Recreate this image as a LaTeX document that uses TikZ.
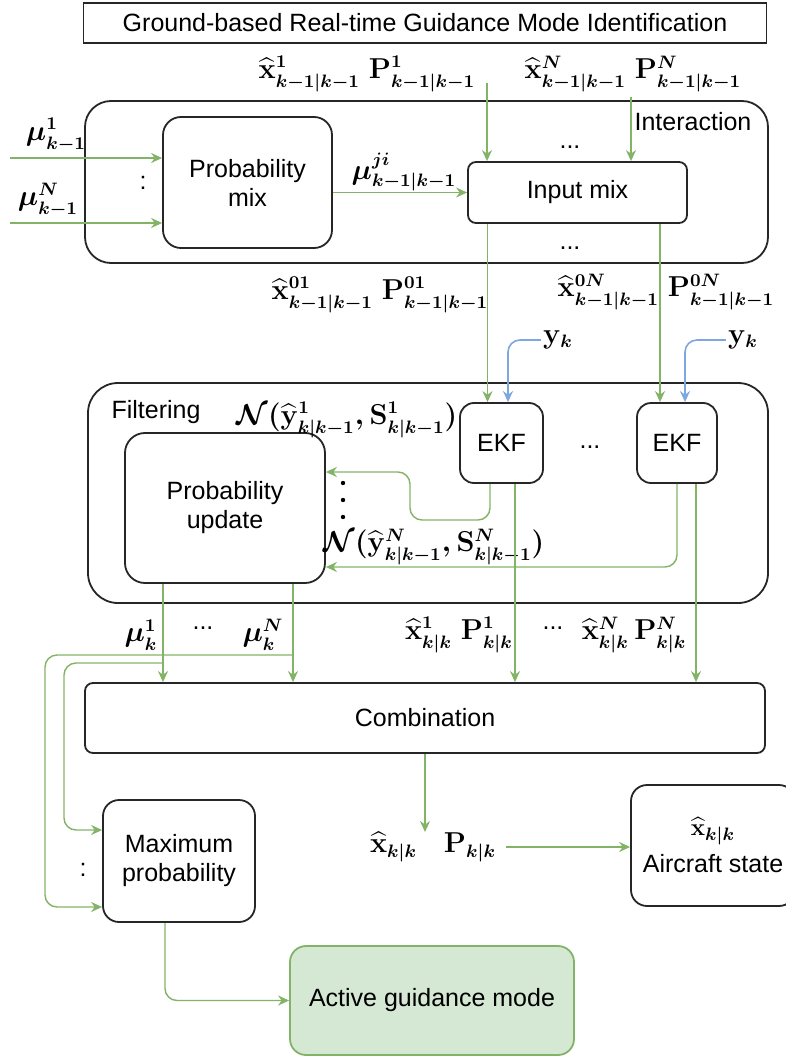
\documentclass[tikz,border=0pt]{standalone}
\usepackage{amsmath,amssymb,bm}
\usepackage[no-math]{fontspec}
\newfontfamily\diafont{Liberation Sans}
\usetikzlibrary{arrows.meta}
\definecolor{flowgreen}{HTML}{82B366}
\definecolor{flowblue}{HTML}{7EA6E0}
\definecolor{modefill}{HTML}{D5E8D4}
\newcommand{\estx}{\widehat{\mathbf{x}}}
\newcommand{\covP}{\mathbf{P}}
\tikzset{
  box/.style={draw=black!85, line width=0.9pt, align=center, inner sep=0pt,
    font=\diafont\fontsize{12.5}{14.5}\selectfont\boldmath},
  txt/.style={font=\diafont\fontsize{12.5}{14.5}\selectfont, inner sep=1pt},
  lbl/.style={font=\fontsize{13.5}{15}\selectfont\boldmath, inner sep=1pt},
  flow/.style={draw=flowgreen, line width=0.7pt, -{Stealth[length=5.5pt,width=5pt]}},
  obs/.style={draw=flowblue, line width=0.8pt, -{Stealth[length=5.5pt,width=5pt]}, rounded corners=6pt},
}
\begin{document}
\begin{tikzpicture}[x=0.5pt,y=-0.5pt]
  \useasboundingbox (0,0) rectangle (786,1059);
  \clip (0,0) rectangle (786,1059);
  \node[box, minimum width=341.5pt, minimum height=20pt] (title) at (425,23)
    {Ground-based Real-time Guidance Mode Identification};
  \node[box, rounded corners=13pt, minimum width=341.5pt, minimum height=81pt] (inter) at (426.5,182) {};
  \node[txt] (intertxt) at (693,122) {Interaction};
  \node[box, rounded corners=9pt, minimum width=84.5pt, minimum height=65.5pt] (pmix) at (247.5,182.5) {Probability\\mix};
  \node[box, rounded corners=4pt, minimum width=109.5pt, minimum height=30.5pt] (imix) at (577.5,192.5) {Input mix};
  \node[box, rounded corners=15pt, minimum width=340pt, minimum height=110pt] (filt) at (428,493) {};
  \node[txt] (filttxt) at (156,412) {Filtering};
  \node[box, rounded corners=10pt, minimum width=100pt, minimum height=75pt] (pupd) at (225,508) {Probability\\update};
  \node[box, rounded corners=7pt, minimum width=41.5pt, minimum height=40pt] (ekfa) at (501.5,443) {EKF};
  \node[box, rounded corners=7pt, minimum width=40pt, minimum height=40pt] (ekfb) at (677,443) {EKF};
  \node[box, rounded corners=4pt, minimum width=340pt, minimum height=35pt] (comb) at (425,718) {Combination};
  \node[box, rounded corners=8pt, minimum width=76pt, minimum height=61pt] (maxp) at (179,861) {Maximum\\probability};
  \node[box, rounded corners=8pt, minimum width=82pt, minimum height=60.5pt] (acs) at (713,845.5) {$\estx_{k|k}$\\[4pt]Aircraft state};
  \node[box, rounded corners=8pt, draw=flowgreen, fill=modefill, minimum width=142pt, minimum height=54.5pt] (agm) at (432,1000.5) {Active guidance mode};

  \node[lbl] (lxa) at (367,74) {$\estx^{1}_{k-1|k-1}\ \covP^{1}_{k-1|k-1}$};
  \node[lbl] (lxb) at (633,74) {$\estx^{N}_{k-1|k-1}\ \covP^{N}_{k-1|k-1}$};
  \node[lbl] (lmua) at (56,135) {$\mu^{1}_{k-1}$};
  \node[lbl] (lmub) at (48,200) {$\mu^{N}_{k-1}$};
  \node[txt] (mixcolon) at (143,183) {:};
  \node[lbl] (lmix) at (404,172) {$\mu^{ji}_{k-1|k-1}$};
  \node[txt] (dtop) at (570,147) {...};
  \node[txt] (dbot) at (570,248) {...};
  \node[lbl] (lxc) at (380,295) {$\estx^{01}_{k-1|k-1}\ \covP^{01}_{k-1|k-1}$};
  \node[lbl] (lxd) at (666,292) {$\estx^{0N}_{k-1|k-1}\ \covP^{0N}_{k-1|k-1}$};
  \node[lbl] (yka) at (558,340) {$\mathbf{y}_{k}$};
  \node[lbl] (ykb) at (743,340) {$\mathbf{y}_{k}$};
  \node[lbl] (lna) at (347,420) {$\mathcal{N}(\widehat{\mathbf{y}}^{1}_{k|k-1},\mathbf{S}^{1}_{k|k-1})$};
  \node[lbl] (lnb) at (434,547) {$\mathcal{N}(\widehat{\mathbf{y}}^{N}_{k|k-1},\mathbf{S}^{N}_{k|k-1})$};
  \node[txt] (edots) at (590,447) {...};
  \foreach \y in {483,500,517}
    \fill (343,\y) circle (1.1pt);
  \node[lbl] (lmka) at (141,635) {$\mu^{1}_{k}$};
  \node[txt] (kdots) at (203,628) {...};
  \node[lbl] (lmkb) at (263,635) {$\mu^{N}_{k}$};
  \node[lbl] (lxe) at (459,635) {$\estx^{1}_{k|k}\ \covP^{1}_{k|k}$};
  \node[txt] (xdots) at (553,628) {...};
  \node[lbl] (lxf) at (634,635) {$\estx^{N}_{k|k}\,\covP^{N}_{k|k}$};
  \node[txt] (maxcolon) at (83,870) {:};
  \node[lbl] (lout) at (433,847) {$\estx_{k|k}\quad\covP_{k|k}$};

  \coordinate (in1) at (10,158);
  \coordinate (in2) at (10,223);
  \coordinate (ta) at (487,83);
  \coordinate (tb) at (631,97);
  \coordinate (ga) at ([xshift=-7pt]ekfa.north);
  \coordinate (gb) at ([xshift=-8.5pt]ekfb.north);
  \coordinate (ba) at ([xshift=3.25pt]ekfa.north);
  \coordinate (bb) at ([xshift=4pt]ekfb.north);
  \coordinate (ea) at ([xshift=-5.75pt]ekfa.south);
  \coordinate (eb) at (ekfb.south);
  \coordinate (ca) at ([xshift=6.75pt]ekfa.south);
  \coordinate (cb) at ([xshift=9.5pt]ekfb.south);
  \coordinate (ja) at (410,520);
  \coordinate (pa) at ([yshift=18pt]pupd.east);
  \coordinate (pb) at ([yshift=-29.5pt]pupd.east);
  \coordinate (ua) at ([xshift=-31pt]pupd.south);
  \coordinate (ub) at ([xshift=34pt]pupd.south);
  \coordinate (ka) at (163,663);
  \coordinate (kb) at (293,655);
  \coordinate (ki) at (64,830);
  \coordinate (ko) at (45,907);
  \coordinate (mqa) at ([yshift=15.5pt]maxp.west);
  \coordinate (mqb) at ([yshift=-23pt]maxp.west);
  \coordinate (oc) at (425,832);
  \coordinate (mb) at ([xshift=-7pt]maxp.south);

  \begin{scope}[flow]
    \draw (in1) -- (in1 -| pmix.west);
    \draw (in2) -- (in2 -| pmix.west);
    \draw (pmix.east |- imix.west) -- (imix.west);
    \draw (ta) -- (ta |- imix.north);
    \draw (tb) -- (tb |- imix.north);
    \draw (ga |- imix.south) -- (ga);
    \draw (gb |- imix.south) -- (gb);
    \draw[rounded corners=6pt] (ea) |- (ja) |- (pa);
    \draw[rounded corners=6pt] (eb) |- (pb);
    \draw (ca) -- (ca |- comb.north);
    \draw (cb) -- (cb |- comb.north);
    \draw (ua) -- (ua |- comb.north);
    \draw (ub) -- (ub |- comb.north);
    \draw[rounded corners=6pt] (ka) -| (ki) -- (mqa);
    \draw[rounded corners=6pt] (kb) -| (ko) -- (mqb);
    \draw (comb.south) -- (oc);
    \draw ([xshift=4pt]lout.east) -- (lout.east -| acs.west);
    \draw[rounded corners=6pt] (mb) |- (agm.west);
  \end{scope}
  \draw[obs] (yka.west) -| (ba);
  \draw[obs] (ykb.west) -| (bb);
\end{tikzpicture}
\end{document}
